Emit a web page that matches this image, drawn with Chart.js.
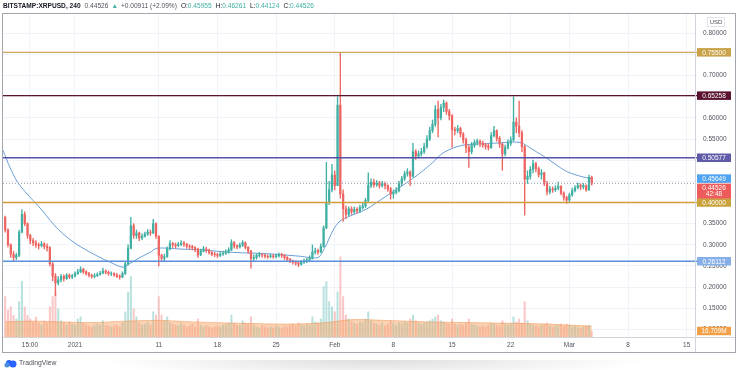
<!DOCTYPE html>
<html>
<head>
<meta charset="utf-8">
<script src="https://cdn.jsdelivr.net/npm/chart.js@4.4.0/dist/chart.umd.min.js"></script>
<style>
  html, body { margin: 0; padding: 0; background: #fff; }
  #wrap { position: relative; width: 736px; height: 370px; overflow: hidden; }
  #shadow { position: absolute; left: 100px; width: 550px; top: 360px; height: 20px;
            background: radial-gradient(ellipse at center top, rgba(0,0,0,0.13), rgba(0,0,0,0) 70%); }
  canvas { position: absolute; left: 0; top: 0; }
</style>
</head>
<body>
<div id="wrap">
  <div id="shadow"></div>
  <canvas id="chart" width="736" height="370"></canvas>
</div>
<script>
// XRPUSD candles (one candle = 8h), time in days from 1 Jan 2021
const startDay  = -25 / 3;        // 23 Dec 16:00
const firstOpen = 0.365;

const closes = [
  .335,.300,.278,.270,.275,.330,.372,.350,.322,.310,
  .305,.300,.298,.302,.296,.293,.255,.226,.210,.217,
  .225,.220,.228,.224,.226,.232,.236,.242,.236,.232,
  .228,.225,.227,.230,.233,.238,.235,.232,.232,.229,
  .226,.224,.232,.255,.292,.345,.322,.328,.316,.320,
  .325,.330,.328,.350,.320,.275,.268,.272,.290,.303,
  .300,.298,.301,.304,.302,.297,.296,.293,.290,.276,
  .285,.290,.288,.282,.278,.277,.275,.278,.280,.283,
  .288,.305,.298,.295,.299,.305,.294,.285,.268,.270,
  .275,.277,.276,.273,.272,.274,.272,.274,.277,.275,
  .270,.266,.262,.259,.257,.254,.259,.262,.264,.268,
  .283,.286,.283,.296,.340,.400,.430,.465,.440,.630,
  .420,.385,.372,.385,.378,.384,.380,.388,.392,.405,
  .440,.448,.442,.446,.440,.445,.440,.432,.420,.424,
  .428,.445,.456,.468,.472,.462,.520,.510,.515,.520,
  .532,.550,.570,.585,.620,.600,.625,.635,.615,.605,
  .572,.570,.575,.562,.548,.530,.520,.535,.542,.545,
  .540,.536,.533,.530,.558,.570,.552,.538,.515,.530,
  .540,.548,.590,.580,.565,.532,.455,.462,.478,.492,
  .480,.466,.470,.445,.425,.432,.430,.434,.438,.422,
  .412,.406,.418,.428,.435,.440,.437,.440,.430,.45955,
  .44526
];

const highs = [
  .368,.338,.302,.285,.280,.335,.383,.378,.352,.325,
  .315,.310,.304,.308,.305,.302,.296,.258,.232,.225,
  .230,.229,.232,.231,.230,.236,.242,.248,.245,.239,
  .235,.231,.232,.234,.237,.245,.241,.238,.236,.234,
  .232,.229,.236,.260,.300,.365,.350,.335,.330,.326,
  .330,.336,.335,.360,.352,.322,.278,.278,.295,.310,
  .306,.304,.306,.310,.308,.303,.300,.299,.296,.292,
  .290,.296,.294,.290,.284,.282,.280,.282,.285,.288,
  .293,.312,.308,.300,.304,.310,.307,.296,.287,.276,
  .279,.282,.280,.278,.276,.278,.277,.278,.281,.280,
  .277,.272,.268,.264,.262,.260,.263,.266,.268,.274,
  .300,.292,.290,.302,.345,.495,.450,.490,.475,.650,
  .755,.430,.392,.390,.390,.390,.388,.394,.398,.410,
  .470,.456,.455,.452,.450,.450,.448,.442,.436,.430,
  .435,.450,.462,.474,.480,.475,.540,.525,.522,.528,
  .540,.558,.578,.595,.630,.640,.632,.642,.638,.620,
  .608,.578,.582,.578,.565,.552,.535,.542,.548,.550,
  .548,.545,.540,.538,.565,.580,.572,.556,.540,.536,
  .548,.555,.650,.600,.640,.570,.535,.475,.485,.500,
  .495,.484,.478,.472,.450,.438,.437,.440,.448,.440,
  .425,.415,.422,.434,.440,.446,.444,.445,.442,.465,
  .46261
];

const lows = [
  .330,.295,.270,.262,.265,.272,.328,.345,.315,.302,
  .298,.294,.290,.295,.290,.285,.250,.215,.180,.205,
  .212,.214,.218,.220,.220,.224,.230,.234,.232,.228,
  .224,.221,.222,.225,.228,.232,.231,.228,.227,.225,
  .222,.219,.222,.230,.252,.290,.315,.315,.310,.312,
  .318,.322,.322,.326,.315,.250,.260,.262,.270,.288,
  .294,.292,.295,.298,.296,.292,.290,.288,.284,.270,
  .274,.283,.282,.278,.274,.272,.270,.272,.275,.277,
  .280,.286,.292,.290,.292,.296,.290,.280,.245,.262,
  .266,.271,.271,.269,.268,.269,.268,.269,.271,.270,
  .265,.262,.258,.254,.252,.248,.252,.256,.258,.262,
  .266,.278,.277,.281,.294,.338,.395,.425,.430,.440,
  .410,.355,.362,.368,.372,.374,.375,.376,.384,.388,
  .400,.435,.436,.438,.434,.436,.432,.426,.408,.410,
  .420,.425,.440,.452,.462,.440,.460,.502,.505,.510,
  .516,.528,.546,.565,.580,.555,.595,.615,.608,.595,
  .530,.560,.565,.555,.540,.518,.483,.515,.530,.536,
  .532,.530,.526,.524,.528,.555,.545,.530,.476,.510,
  .526,.535,.545,.565,.555,.520,.370,.445,.455,.470,
  .472,.460,.455,.440,.418,.420,.424,.426,.430,.418,
  .405,.398,.400,.415,.425,.432,.430,.432,.426,.428,
  .44124
];

// volume per candle, millions
const volumes = [
  112,75,84,60,50,98,155,84,60,50,
  42,55,39,33,45,39,84,112,125,78,
  45,39,33,42,36,33,50,56,39,33,
  31,28,33,36,33,45,33,31,28,31,
  33,28,39,70,125,168,78,56,39,33,
  36,42,33,70,61,112,61,45,56,39,
  36,33,31,39,33,28,31,36,28,50,
  33,28,31,28,25,28,31,28,33,36,
  39,61,39,33,31,45,39,36,56,33,
  28,25,31,28,25,28,25,31,28,25,
  31,28,33,36,31,39,33,31,36,33,
  56,42,39,50,140,154,98,84,70,125,
  223,112,61,50,42,39,36,42,39,50,
  70,45,39,36,33,39,31,36,45,39,
  33,39,36,42,39,50,61,45,39,36,
  39,42,45,50,56,61,45,42,39,36,
  50,36,33,36,33,39,50,36,33,31,
  28,31,28,33,39,36,33,31,45,36,
  33,36,56,42,50,39,98,45,36,33,
  31,28,33,36,39,31,28,31,33,36,
  31,36,33,28,31,28,25,28,31,33,
  16.709
];

// moving average on price, read as points
const maDays = [-8.59,-7.76,-6.92,-5.97,-5.01,-3.94,-2.98,-2.03,-0.95,0,0.95,2.98,4.18,5.73,6.56,7.76,8.95,9.79,
  12.53,14.92,18.85,22.91,26.85,29.0,29.83,30.79,31.62,32.82,34.84,36.75,38.78,40.81,42.72,43.91,45.58,46.78,
  49.16,50.72,53.1,54.65,56.44,57.64,58.83,60.5,61.67];
const maValues = [.523,.483,.450,.426,.405,.382,.358,.337,.318,.304,.292,.270,.259,.247,.256,.270,.282,.292,
  .290,.288,.282,.279,.273,.270,.294,.334,.356,.368,.385,.410,.436,.464,.495,.517,.532,.537,
  .539,.541,.542,.525,.503,.486,.472,.461,.45649];

// volume moving average (orange area)
const volMaDays   = [-8.33,-5,-2,2,6,10,14,20,26,30,33,37,42,47,52,56,61.67];
const volMaValues = [42,44,42,40,44,46,42,38,36,40,48,46,42,40,38,36,30];

const priceTicks  = [0.10,0.15,0.20,0.25,0.30,0.35,0.40,0.45,0.50,0.55,0.60,0.65,0.70,0.75,0.80];
const xTickDays   = [-5.375, 0, 10, 17, 24, 31, 38, 45, 52, 59, 66, 73];
const xTickLabels = ["15:00","2021","11","18","25","Feb","8","15","22","Mar","8","15"];

const levelPrices = [0.755, 0.65258, 0.50577, 0.40, 0.26112];
const maLast      = 0.45649;
const lastPrice   = 0.44526;
const countdown   = "42:48";
const lastVolume  = "16.709M";

// styles
const levelLine  = ["#caa55a", "#5a1430", "#5451a6", "#d09d38", "#5b8fdc"];
const levelBadge = ["#c9a24a", "#5a1430", "#5f5ba8", "#c9a23c", "#86aee8"];
const UP = "#3fb0a3", DOWN = "#ee6460";
const FONT = "Liberation Sans";

const opens = closes.map((c, i) => i === 0 ? firstOpen : closes[i - 1]);
const times = closes.map((c, i) => startDay + i / 3);
const isUp  = i => closes[i] >= opens[i];

const overlay = {
  id: "overlay",
  afterDatasetsDraw(chart) {
    const { ctx, chartArea: a, scales: { y } } = chart;
    ctx.save();
    // last price dotted line
    let py = y.getPixelForValue(lastPrice);
    ctx.strokeStyle = "#9598a1"; ctx.lineWidth = 1; ctx.setLineDash([1, 2]);
    ctx.beginPath(); ctx.moveTo(a.left, py); ctx.lineTo(a.right, py); ctx.stroke();
    ctx.setLineDash([]);
    // horizontal levels
    levelPrices.forEach((p, k) => {
      const ly = y.getPixelForValue(p);
      ctx.strokeStyle = levelLine[k]; ctx.lineWidth = 1.4;
      ctx.beginPath(); ctx.moveTo(a.left, ly); ctx.lineTo(a.right + 2, ly); ctx.stroke();
    });
    ctx.restore();
  },
  afterDraw(chart) {
    const { ctx, chartArea: a, scales: { y } } = chart;
    ctx.save();

    // frame
    ctx.strokeStyle = "#a3a6af"; ctx.lineWidth = 1;
    ctx.strokeRect(2.5, 13.5, 733, 339);
    ctx.strokeStyle = "#d1d4dc";
    ctx.beginPath();
    ctx.moveTo(a.right + 0.5, 14); ctx.lineTo(a.right + 0.5, 352);
    ctx.moveTo(3, a.bottom + 0.5); ctx.lineTo(735, a.bottom + 0.5);
    ctx.stroke();

    // badges on the price axis
    const bx = a.right + 2, bw = 34;
    function badge(cy, text, bg, h) {
      h = h || 8.5;
      ctx.fillStyle = bg;
      ctx.fillRect(bx, cy - h / 2, bw, h);
      ctx.fillStyle = "#fff";
      ctx.font = "6.5px '" + FONT + "'";
      ctx.textAlign = "center"; ctx.textBaseline = "middle";
      ctx.fillText(text, bx + bw / 2, cy + 0.5);
    }
    levelPrices.forEach((p, k) => badge(y.getPixelForValue(p), p.toFixed(5), levelBadge[k]));
    const maY = y.getPixelForValue(maLast);
    badge(maY, maLast.toFixed(5), "#4fa3f0");
    // red last-price badge, pushed below the MA badge
    const top = maY + 5;
    ctx.fillStyle = "#ee5b5b";
    ctx.fillRect(bx, top, bw, 15);
    ctx.fillStyle = "#fff"; ctx.font = "6.5px '" + FONT + "'";
    ctx.textAlign = "center"; ctx.textBaseline = "middle";
    ctx.fillText(lastPrice.toFixed(5), bx + bw / 2, top + 4.5);
    ctx.fillText(countdown, bx + bw / 2, top + 11);
    // volume badge
    const vy = chart.scales.yv.getPixelForValue(volumes[volumes.length - 1]);
    badge(vy, lastVolume, "#f2a048");

    // USD box
    ctx.strokeStyle = "#e0e3eb"; ctx.strokeRect(707.5, 17.5, 17, 9);
    ctx.fillStyle = "#50535e"; ctx.font = "6px '" + FONT + "'";
    ctx.fillText("USD", 716, 22.5);

    // header
    const parts = [
      ["BITSTAMP:XRPUSD, 240", "#131722", true, 4],
      ["0.44526", "#50535e", false, 3],
      ["\u25B2", UP, false, 3],
      ["+0.00911 (+2.09%)", "#50535e", false, 4],
      ["O:", "#131722", false, 0], ["0.45955", UP, false, 4],
      ["H:", "#131722", false, 0], ["0.46261", UP, false, 4],
      ["L:", "#131722", false, 0], ["0.44124", UP, false, 4],
      ["C:", "#131722", false, 0], ["0.44526", UP, false, 0]
    ];
    let hx = 3;
    ctx.textAlign = "left"; ctx.textBaseline = "middle";
    parts.forEach(([t, col, bold, gap]) => {
      ctx.font = (bold ? "bold " : "") + "6.6px '" + FONT + "'";
      ctx.fillStyle = col;
      ctx.fillText(t, hx, 6.5);
      hx += ctx.measureText(t).width + gap;
    });

    // logo
    ctx.fillStyle = "#2962ff";
    ctx.beginPath(); ctx.arc(9, 363, 3, 0, Math.PI * 2); ctx.fill();
    ctx.beginPath(); ctx.arc(13, 364, 3.5, 0, Math.PI * 2); ctx.fill();
    ctx.fillStyle = "#4a90e2";
    ctx.beginPath(); ctx.arc(7, 365, 2.5, 0, Math.PI * 2); ctx.fill();
    ctx.fillStyle = "#50535e"; ctx.font = "6.8px '" + FONT + "'";
    ctx.fillText("TradingView", 19, 363.5);

    ctx.restore();
  }
};

const chart = new Chart(document.getElementById("chart"), {
  type: "line",
  data: {
    datasets: [
      {
        type: "bar",
        data: times.map((t, i) => ({ x: t, y: [opens[i], closes[i]] })),
        backgroundColor: ctx => isUp(ctx.dataIndex) ? UP : DOWN,
        barThickness: 1.6,
        grouped: false,
        order: 0
      },
      {
        type: "bar",
        data: times.map((t, i) => ({ x: t, y: [lows[i], highs[i]] })),
        backgroundColor: ctx => isUp(ctx.dataIndex) ? UP : DOWN,
        barThickness: 0.7,
        grouped: false,
        order: 1
      },
      {
        type: "line",
        data: maDays.map((d, i) => ({ x: d, y: maValues[i] })),
        borderColor: "#6b9fd6",
        borderWidth: 1,
        pointRadius: 0,
        tension: 0.3,
        order: 2
      },
      {
        type: "line",
        yAxisID: "yv",
        data: volMaDays.map((d, i) => ({ x: d, y: volMaValues[i] })),
        borderColor: "rgba(242,150,80,0.55)",
        backgroundColor: "rgba(246,168,105,0.5)",
        borderWidth: 1,
        fill: "origin",
        pointRadius: 0,
        tension: 0.4,
        order: 3
      },
      {
        type: "bar",
        yAxisID: "yv",
        data: times.map((t, i) => ({ x: t, y: volumes[i] })),
        backgroundColor: ctx => isUp(ctx.dataIndex) ? "rgba(38,166,154,0.32)" : "rgba(239,83,80,0.32)",
        barThickness: 1.4,
        grouped: false,
        order: 4
      }
    ]
  },
  options: {
    responsive: false,
    animation: false,
    devicePixelRatio: 1,
    layout: { padding: { top: 13, left: 3, right: 1, bottom: 18 } },
    plugins: { legend: { display: false }, tooltip: { enabled: false } },
    scales: {
      x: {
        type: "linear",
        min: -8.592,
        max: 73.99,
        offset: false,
        afterBuildTicks: s => { s.ticks = xTickDays.map(v => ({ value: v })); },
        afterFit: s => { s.height = 15; },
        grid: { color: "#f0f3fa", drawTicks: false, offset: false },
        border: { display: false },
        ticks: {
          autoSkip: false, maxRotation: 0, padding: 4,
          color: "#50535e", font: { family: FONT, size: 6.5 },
          callback: (v, i) => xTickLabels[i]
        }
      },
      y: {
        type: "linear",
        position: "right",
        min: 0.082,
        max: 0.848,
        afterBuildTicks: s => { s.ticks = priceTicks.map(v => ({ value: v })); },
        afterFit: s => { s.width = 40; },
        grid: { color: "#f0f3fa", drawTicks: false },
        border: { display: false },
        ticks: {
          padding: 8,
          color: "#50535e", font: { family: FONT, size: 6.5 },
          callback: v => v.toFixed(5)
        }
      },
      yv: { type: "linear", display: false, min: 0, max: 900 }
    }
  },
  plugins: [overlay]
});
</script>
</body>
</html>
